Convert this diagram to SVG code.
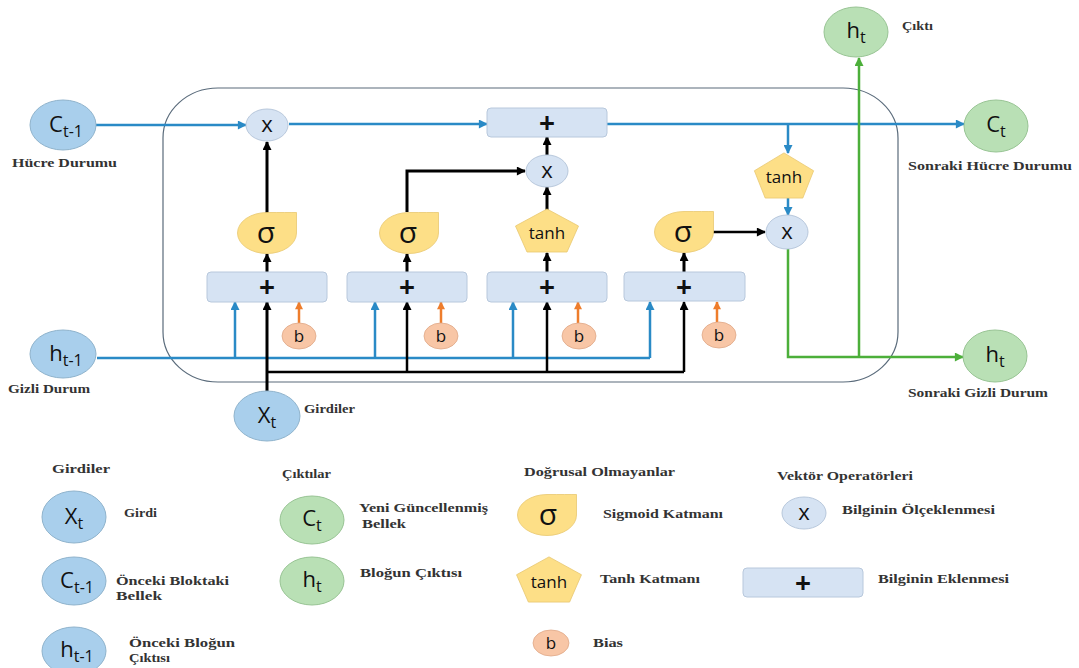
<svg xmlns="http://www.w3.org/2000/svg" width="1079" height="668" viewBox="0 0 1079 668">
<style>
.lbl{font-family:"Liberation Serif","Times New Roman",serif;font-weight:bold;font-size:12.5px;fill:#333}
.sym{font-family:"Open Sans","Liberation Sans",sans-serif;fill:#111}
.blue{fill:#a9cfec;stroke:#8fb3cc;stroke-width:1}
.green{fill:#b9e0b5;stroke:#98c494;stroke-width:1}
.op{fill:#d6e3f3;stroke:#b8c8dc;stroke-width:1}
.yel{fill:#fddf87;stroke:#e8c870;stroke-width:0.8}
.bias{fill:#f8c6a6;stroke:#e0a888;stroke-width:0.8}
.cb{fill:none;stroke:#2a8ac6;stroke-width:2.5}
.ck{fill:none;stroke:#000;stroke-width:3}
.ck2{fill:none;stroke:#000;stroke-width:2.5}
.cg{fill:none;stroke:#4caf3a;stroke-width:2.5}
.co{fill:none;stroke:#ee7d2c;stroke-width:2.5}
</style>
<defs>
<marker id="mb" viewBox="0 0 10 10" refX="9" refY="5" markerWidth="10" markerHeight="9" markerUnits="userSpaceOnUse" orient="auto"><path d="M0,0 L10,5 L0,10 z" fill="#2a8ac6"/></marker>
<marker id="mk" viewBox="0 0 10 10" refX="9" refY="5" markerWidth="10" markerHeight="9" markerUnits="userSpaceOnUse" orient="auto"><path d="M0,0 L10,5 L0,10 z" fill="#000"/></marker>
<marker id="mg" viewBox="0 0 10 10" refX="9" refY="5" markerWidth="10" markerHeight="9" markerUnits="userSpaceOnUse" orient="auto"><path d="M0,0 L10,5 L0,10 z" fill="#4caf3a"/></marker>
<marker id="mo" viewBox="0 0 10 10" refX="9" refY="5" markerWidth="9" markerHeight="8" markerUnits="userSpaceOnUse" orient="auto"><path d="M0,0 L10,5 L0,10 z" fill="#ee7d2c"/></marker>
<path id="sig" d="M29.5,-20.5 V0 A29.5 20.5 0 0 1 0,20.5 A29.5 20.5 0 0 1 -29.5,0 A29.5 20.5 0 0 1 0,-20.5 Q20,-20.5 29.5,-20.5 Z"/>
<polygon id="pent" points="0,-22 31.5,-5 20,21 -20,21 -31.5,-5"/>
</defs>
<rect width="1079" height="668" fill="#fff"/>

<rect id="cell" x="163" y="88" width="735" height="294" rx="55" ry="50" fill="none" stroke="#5a6b7b" stroke-width="1.2"/>

<g id="connectors">
<path class="cb" d="M96,125 H246" marker-end="url(#mb)"/>
<path class="cb" d="M289,124 H487" marker-end="url(#mb)"/>
<path class="cb" d="M607,124 H964" marker-end="url(#mb)"/>
<path class="cb" d="M788,124 V153" marker-end="url(#mb)"/>
<path class="cb" d="M788,198 V215" marker-end="url(#mb)"/>
<path class="cb" d="M97,358 H650"/>
<path class="cb" d="M235,358 V302" marker-end="url(#mb)"/>
<path class="cb" d="M375,358 V302" marker-end="url(#mb)"/>
<path class="cb" d="M513,358 V302" marker-end="url(#mb)"/>
<path class="cb" d="M650,358 V302" marker-end="url(#mb)"/>
<path class="ck" d="M267,213 V142" marker-end="url(#mk)"/>
<path class="ck" d="M407,212 V171 H525" marker-end="url(#mk)"/>
<path class="ck" d="M547,210 V187" marker-end="url(#mk)"/>
<path class="ck" d="M547,155 V137" marker-end="url(#mk)"/>
<path class="ck" d="M267,272 V254" marker-end="url(#mk)"/>
<path class="ck" d="M407,272 V254" marker-end="url(#mk)"/>
<path class="ck" d="M547,272 V253" marker-end="url(#mk)"/>
<path class="ck" d="M684,272 V253" marker-end="url(#mk)"/>
<path class="ck2" d="M713,232 H765" marker-end="url(#mk)"/>
<path class="ck" d="M267,391 V302" marker-end="url(#mk)"/>
<path class="ck2" d="M267,372 H684"/>
<path class="ck2" d="M407,372 V302" marker-end="url(#mk)"/>
<path class="ck2" d="M547,372 V302" marker-end="url(#mk)"/>
<path class="ck2" d="M684,372 V302" marker-end="url(#mk)"/>
<path class="co" d="M299,323 V302" marker-end="url(#mo)"/>
<path class="co" d="M441,323 V302" marker-end="url(#mo)"/>
<path class="co" d="M578,323 V302" marker-end="url(#mo)"/>
<path class="co" d="M717,322 V302" marker-end="url(#mo)"/>
<path class="cg" d="M788,249 V357 H963" marker-end="url(#mg)"/>
<path class="cg" d="M859,357 V58" marker-end="url(#mg)"/>
</g>

<g id="c_prev"><ellipse class="blue" cx="63" cy="125" rx="33" ry="25"/><text class="sym" x="66" y="132" text-anchor="middle" font-size="22">C<tspan font-size="16" dy="5">t-1</tspan></text><text class="lbl" x="12" y="167" textLength="105" lengthAdjust="spacingAndGlyphs">Hücre Durumu</text></g>
<g id="h_prev"><ellipse class="blue" cx="63" cy="354" rx="33" ry="24"/><text class="sym" x="66" y="361" text-anchor="middle" font-size="22">h<tspan font-size="16" dy="5">t-1</tspan></text><text class="lbl" x="8" y="393" textLength="82" lengthAdjust="spacingAndGlyphs">Gizli Durum</text></g>
<g id="x_t"><ellipse class="blue" cx="267" cy="416" rx="33" ry="25"/><text class="sym" x="267" y="423" text-anchor="middle" font-size="22">X<tspan font-size="16" dy="5">t</tspan></text><text class="lbl" x="304" y="413" textLength="51" lengthAdjust="spacingAndGlyphs">Girdiler</text></g>
<g id="h_out"><ellipse class="green" cx="856" cy="32" rx="32" ry="25"/><text class="sym" x="856" y="38" text-anchor="middle" font-size="22">h<tspan font-size="16" dy="5">t</tspan></text><text class="lbl" x="902" y="30" font-size="11" textLength="31" lengthAdjust="spacingAndGlyphs">Çıktı</text></g>
<g id="c_next"><ellipse class="green" cx="996" cy="126" rx="32" ry="26"/><text class="sym" x="996" y="132" text-anchor="middle" font-size="22">C<tspan font-size="16" dy="5">t</tspan></text><text class="lbl" x="908" y="170" textLength="164" lengthAdjust="spacingAndGlyphs">Sonraki Hücre Durumu</text></g>
<g id="h_next"><ellipse class="green" cx="995" cy="356" rx="32" ry="26"/><text class="sym" x="995" y="362" text-anchor="middle" font-size="22">h<tspan font-size="16" dy="5">t</tspan></text><text class="lbl" x="908" y="397" textLength="140" lengthAdjust="spacingAndGlyphs">Sonraki Gizli Durum</text></g>

<g id="mul_forget"><ellipse class="op" cx="267" cy="125" rx="21" ry="16"/><text class="sym" x="267" y="132" text-anchor="middle" font-size="22">x</text></g>
<g id="add_cell"><rect class="op" x="487" y="108" width="120" height="29" rx="4"/><text class="sym" x="547" y="133" text-anchor="middle" font-size="28" font-weight="bold">+</text></g>
<g id="mul_input"><ellipse class="op" cx="547" cy="171" rx="21" ry="16"/><text class="sym" x="547" y="178" text-anchor="middle" font-size="22">x</text></g>
<g id="tanh_out"><use href="#pent" class="yel" transform="translate(784,176) scale(0.94,1.05)"/><text class="sym" x="784" y="183" text-anchor="middle" font-size="17">tanh</text></g>
<g id="mul_out"><ellipse class="op" cx="787" cy="232" rx="21" ry="17"/><text class="sym" x="787" y="239" text-anchor="middle" font-size="22">x</text></g>

<g id="sig1"><use href="#sig" class="yel" transform="translate(267,233)"/><text class="sym" x="266" y="243" text-anchor="middle" font-size="30">σ</text></g>
<g id="sig2"><use href="#sig" class="yel" transform="translate(409,233)"/><text class="sym" x="408" y="243" text-anchor="middle" font-size="30">σ</text></g>
<g id="tanh_in"><use href="#pent" class="yel" transform="translate(547,231)"/><text class="sym" x="547" y="239" text-anchor="middle" font-size="17">tanh</text></g>
<g id="sig4"><use href="#sig" class="yel" transform="translate(684,232)"/><text class="sym" x="683" y="242" text-anchor="middle" font-size="30">σ</text></g>

<g id="sum1"><rect class="op" x="207" y="272" width="120" height="30" rx="4"/><text class="sym" x="267" y="297" text-anchor="middle" font-size="28" font-weight="bold">+</text></g>
<g id="sum2"><rect class="op" x="347" y="272" width="120" height="30" rx="4"/><text class="sym" x="407" y="297" text-anchor="middle" font-size="28" font-weight="bold">+</text></g>
<g id="sum3"><rect class="op" x="487" y="272" width="120" height="30" rx="4"/><text class="sym" x="547" y="297" text-anchor="middle" font-size="28" font-weight="bold">+</text></g>
<g id="sum4"><rect class="op" x="624" y="272" width="121" height="29" rx="4"/><text class="sym" x="684" y="297" text-anchor="middle" font-size="28" font-weight="bold">+</text></g>

<g id="b1"><ellipse class="bias" cx="299" cy="336" rx="17" ry="13"/><text class="sym" x="299" y="342" text-anchor="middle" font-size="17">b</text></g>
<g id="b2"><ellipse class="bias" cx="441" cy="336" rx="17" ry="13"/><text class="sym" x="441" y="342" text-anchor="middle" font-size="17">b</text></g>
<g id="b3"><ellipse class="bias" cx="579" cy="336" rx="17" ry="13"/><text class="sym" x="579" y="342" text-anchor="middle" font-size="17">b</text></g>
<g id="b4"><ellipse class="bias" cx="719" cy="335" rx="17" ry="13"/><text class="sym" x="719" y="341" text-anchor="middle" font-size="17">b</text></g>

<g id="legend">
<text class="lbl" x="52" y="473" textLength="58" lengthAdjust="spacingAndGlyphs">Girdiler</text>
<g id="lg_x"><ellipse class="blue" cx="74" cy="517" rx="32" ry="26"/><text class="sym" x="74" y="524" text-anchor="middle" font-size="22">X<tspan font-size="16" dy="5">t</tspan></text><text class="lbl" x="124" y="517" textLength="33" lengthAdjust="spacingAndGlyphs">Girdi</text></g>
<g id="lg_c"><ellipse class="blue" cx="74" cy="581" rx="32" ry="24"/><text class="sym" x="77" y="588" text-anchor="middle" font-size="22">C<tspan font-size="16" dy="5">t-1</tspan></text><text class="lbl" x="116" y="585" textLength="113" lengthAdjust="spacingAndGlyphs">Önceki Bloktaki</text><text class="lbl" x="116" y="600" textLength="46" lengthAdjust="spacingAndGlyphs">Bellek</text></g>
<g id="lg_h"><ellipse class="blue" cx="74" cy="651" rx="32" ry="24"/><text class="sym" x="77" y="657" text-anchor="middle" font-size="22">h<tspan font-size="16" dy="5">t-1</tspan></text><text class="lbl" x="129" y="647" textLength="106" lengthAdjust="spacingAndGlyphs">Önceki Bloğun</text><text class="lbl" x="129" y="662" textLength="41" lengthAdjust="spacingAndGlyphs">Çıktısı</text></g>
<text class="lbl" x="282" y="478" textLength="49" lengthAdjust="spacingAndGlyphs">Çıktılar</text>
<g id="lg_ct"><ellipse class="green" cx="312" cy="520" rx="32" ry="24"/><text class="sym" x="312" y="526" text-anchor="middle" font-size="22">C<tspan font-size="16" dy="5">t</tspan></text><text class="lbl" x="359" y="512" textLength="129" lengthAdjust="spacingAndGlyphs">Yeni Güncellenmiş</text><text class="lbl" x="362" y="528" textLength="44" lengthAdjust="spacingAndGlyphs">Bellek</text></g>
<g id="lg_ht"><ellipse class="green" cx="312" cy="581" rx="32" ry="24"/><text class="sym" x="312" y="587" text-anchor="middle" font-size="22">h<tspan font-size="16" dy="5">t</tspan></text><text class="lbl" x="360" y="577" textLength="102" lengthAdjust="spacingAndGlyphs">Bloğun Çıktısı</text></g>
<text class="lbl" x="524" y="476" textLength="151" lengthAdjust="spacingAndGlyphs">Doğrusal Olmayanlar</text>
<g id="lg_sig"><use href="#sig" class="yel" transform="translate(547,515)"/><text class="sym" x="548" y="525" text-anchor="middle" font-size="30">σ</text><text class="lbl" x="603" y="518" textLength="120" lengthAdjust="spacingAndGlyphs">Sigmoid Katmanı</text></g>
<g id="lg_tanh"><use href="#pent" class="yel" transform="translate(549,580) scale(1.03,1.05)"/><text class="sym" x="549" y="588" text-anchor="middle" font-size="17">tanh</text><text class="lbl" x="600" y="583" textLength="100" lengthAdjust="spacingAndGlyphs">Tanh Katmanı</text></g>
<g id="lg_b"><ellipse class="bias" cx="551" cy="643" rx="18" ry="13"/><text class="sym" x="551" y="649" text-anchor="middle" font-size="17">b</text><text class="lbl" x="593" y="647" textLength="30" lengthAdjust="spacingAndGlyphs">Bias</text></g>
<text class="lbl" x="777" y="480" textLength="136" lengthAdjust="spacingAndGlyphs">Vektör Operatörleri</text>
<g id="lg_mul"><ellipse class="op" cx="804" cy="513" rx="22" ry="16"/><text class="sym" x="804" y="520" text-anchor="middle" font-size="22">x</text><text class="lbl" x="842" y="514" textLength="153" lengthAdjust="spacingAndGlyphs">Bilginin Ölçeklenmesi</text></g>
<g id="lg_add"><rect class="op" x="743" y="568" width="120" height="29" rx="4"/><text class="sym" x="803" y="593" text-anchor="middle" font-size="28" font-weight="bold">+</text><text class="lbl" x="878" y="583" textLength="131" lengthAdjust="spacingAndGlyphs">Bilginin Eklenmesi</text></g>
</g>
</svg>
